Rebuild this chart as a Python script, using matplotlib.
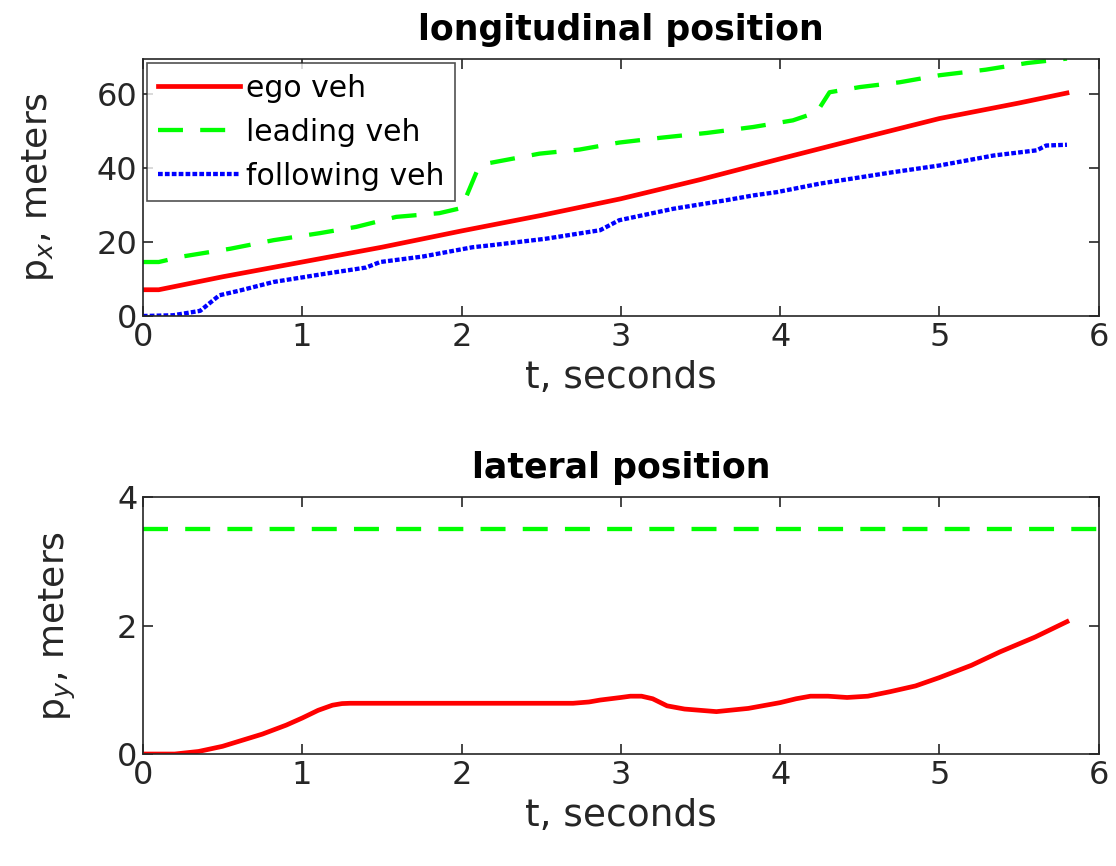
import matplotlib
matplotlib.use("Agg")
import matplotlib.pyplot as plt

plt.rcParams['font.family'] = ['DejaVu Sans']
plt.rcParams['mathtext.fontset'] = 'dejavusans'

# longitudinal position, meters
t_ego = [0, 0.1, 0.5, 1, 1.5, 2, 2.5, 3, 3.5, 4, 4.5, 5, 5.5, 5.8]
x_ego = [7.1, 7.1, 10.6, 14.6, 18.6, 23.0, 27.2, 31.7, 36.9, 42.5, 48.0, 53.4, 57.6, 60.3]

t_lead = [0, 0.1, 0.25, 0.55, 0.82, 1.11, 1.34, 1.59, 1.86, 2.0, 2.1, 2.18, 2.49,
          2.74, 2.99, 3.25, 3.54, 3.83, 4.08, 4.23, 4.31, 4.5, 4.75, 5.0, 5.29, 5.55, 5.8]
x_lead = [14.6, 14.6, 16.1, 18.2, 20.5, 22.4, 24.1, 26.8, 27.8, 29.2, 39.5, 41.4, 43.9,
          45.0, 46.9, 48.2, 49.5, 51.1, 52.9, 55.1, 60.5, 61.9, 63.2, 65.1, 66.6, 68.4, 69.6]

t_foll = [0, 0.19, 0.36, 0.48, 0.61, 0.82, 1.11, 1.40, 1.49, 1.76, 2.07, 2.18, 2.53,
          2.87, 2.99, 3.33, 3.66, 3.83, 3.98, 4.25, 4.71, 5.0, 5.34, 5.61, 5.67, 5.8]
x_foll = [0, 0.2, 1.4, 5.6, 6.9, 9.2, 11.2, 13.1, 14.6, 16.1, 18.6, 19.1, 20.9,
          23.2, 25.9, 29.0, 31.3, 32.6, 33.5, 35.8, 38.9, 40.7, 43.4, 44.8, 46.1, 46.3]

# lateral position, meters
t_lat = [0, 0.2, 0.35, 0.5, 0.75, 0.9, 1.0, 1.1, 1.19, 1.25, 1.3, 2.7, 2.8, 2.87, 3.0,
         3.06, 3.13, 3.2, 3.29, 3.4, 3.6, 3.8, 4.0, 4.1, 4.19, 4.3, 4.42, 4.55, 4.69,
         4.85, 5.0, 5.2, 5.38, 5.6, 5.8]
y_ego = [0, 0, 0.04, 0.12, 0.31, 0.45, 0.56, 0.68, 0.76, 0.785, 0.79, 0.79, 0.81, 0.84, 0.88,
         0.9, 0.9, 0.86, 0.75, 0.7, 0.66, 0.71, 0.80, 0.86, 0.90, 0.9, 0.88, 0.9, 0.97,
         1.06, 1.19, 1.38, 1.59, 1.82, 2.06]
t_lane = [0, 6]
y_lead = [3.5, 3.5]

tick_col = '#262626'
fs = 23
xfs = 27
yfs = 26

fig = plt.figure(figsize=(11.16, 8.66), dpi=100)
ax1 = fig.add_axes([0.128, 0.6351, 0.8566, 0.2968])
ax2 = fig.add_axes([0.128, 0.1293, 0.8566, 0.2968])

ax1.plot(t_ego, x_ego, color='red', lw=3.4, label='ego veh')
ax1.plot(t_lead, x_lead, color=(0, 1, 0), lw=3.1, dashes=(5.8, 4), label='leading veh')
ax1.plot(t_foll, x_foll, color='blue', lw=3.1, dashes=(1.1, 0.5),
         dash_capstyle='butt', label='following veh')
ax1.set_xlim(0, 6)
ax1.set_ylim(0, 69.5)
ax1.set_yticks([0, 20, 40, 60])
ax1.set_title('longitudinal position', fontsize=25, fontweight='bold', pad=14)
ax1.set_xlabel('t, seconds', fontsize=xfs, color=tick_col, labelpad=5)
ax1.set_ylabel('p$_x$, meters', fontsize=yfs, color=tick_col, labelpad=29)
leg = ax1.legend(loc='upper left', fontsize=21.5, frameon=True, fancybox=False,
                 borderpad=0.35, labelspacing=0.5, handlelength=2.75, handletextpad=0.2,
                 borderaxespad=0.15)
leg.get_frame().set_edgecolor(tick_col)
leg.get_frame().set_linewidth(1.2)

ax2.plot(t_lat, y_ego, color='red', lw=3.4)
ax2.plot(t_lane, y_lead, color=(0, 1, 0), lw=3.1, dashes=(5.8, 4))
ax2.set_xlim(0, 6)
ax2.set_ylim(0, 4)
ax2.set_yticks([0, 2, 4])
ax2.set_title('lateral position', fontsize=25, fontweight='bold', pad=14)
ax2.set_xlabel('t, seconds', fontsize=xfs, color=tick_col, labelpad=5)
ax2.set_ylabel('p$_y$, meters', fontsize=yfs, color=tick_col, labelpad=28)

for ax in (ax1, ax2):
    ax.set_xticks(range(7))
    ax.tick_params(direction='in', top=True, right=True, length=7, width=1.2,
                   labelsize=fs, colors=tick_col, pad=4)
    for s in ax.spines.values():
        s.set_color(tick_col)
        s.set_linewidth(1.2)

fig.savefig('out.png', dpi=100)
